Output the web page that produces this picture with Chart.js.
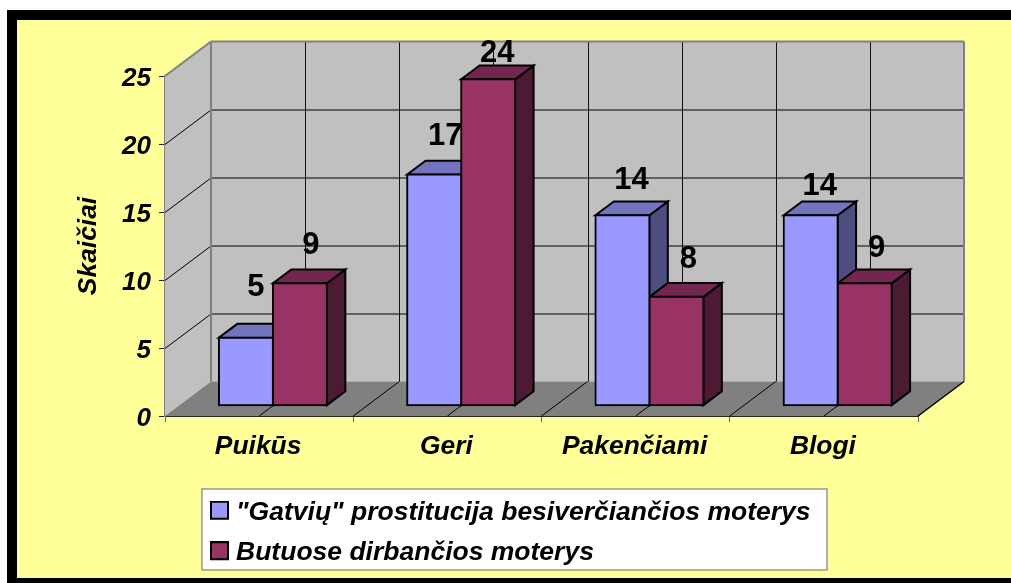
<!DOCTYPE html>
<html>
<head>
<meta charset="utf-8">
<style>html,body{margin:0;padding:0;background:#fff}canvas{display:block}</style>
<script src="https://cdn.jsdelivr.net/npm/chart.js@4"></script>
</head>
<body>
<canvas id="c" width="1011" height="583"></canvas>
<script>
const categories = ['Puikūs', 'Geri', 'Pakenčiami', 'Blogi'];
const streetValues = [5, 17, 14, 14];
const indoorValues = [9, 24, 8, 9];
const streetLabel = '"Gatvių" prostitucija besiverčiančios moterys';
const indoorLabel = 'Butuose dirbančios moterys';
const axisTitle = 'Skaičiai';

const FONT = '"Liberation Sans", Arial, sans-serif';
const YELLOW = '#FFFF99', WALL = '#C0C0C0', FLOOR = '#808080', EDGE = '#808080';
const WALL_DX = 46, WALL_DY = 34.5;     // depth of the 3D box
const BAR_FRONT = 0.3, BAR_BACK = 0.7;  // depth slice occupied by the bars
const faces = [
  {top: '#7373BF', side: '#4D4D80'},
  {top: '#732650', side: '#4D1A33'}
];
const labelShift = [
  [[10, -50], [11, -38], [9, -35], [9, -29]],
  [[11, -38], [9, -26], [12, -37], [12, -35]]
];
const frontDX = WALL_DX * BAR_FRONT, frontDY = WALL_DY * BAR_FRONT;
const barDX = WALL_DX * (BAR_BACK - BAR_FRONT), barDY = WALL_DY * (BAR_BACK - BAR_FRONT);

function poly(ctx, pts, fill, stroke, lw) {
  ctx.beginPath();
  pts.forEach((p, i) => i ? ctx.lineTo(p[0], p[1]) : ctx.moveTo(p[0], p[1]));
  ctx.closePath();
  if (fill) { ctx.fillStyle = fill; ctx.fill(); }
  if (stroke) { ctx.strokeStyle = stroke; ctx.lineWidth = lw; ctx.lineJoin = 'miter'; ctx.stroke(); }
}
function line(ctx, x1, y1, x2, y2, color, lw) {
  ctx.beginPath(); ctx.moveTo(x1, y1); ctx.lineTo(x2, y2);
  ctx.strokeStyle = color; ctx.lineWidth = lw; ctx.stroke();
}

const scene = {
  id: 'scene',
  beforeDraw(chart) {
    const c = chart.ctx, W = chart.width, H = chart.height;
    c.save();
    c.fillStyle = '#fff'; c.fillRect(0, 0, W, H);
    c.fillStyle = '#000'; c.fillRect(7, 10, W - 7, H - 10);
    c.fillStyle = YELLOW; c.fillRect(17, 20, W - 17, 558);
    // legend panel
    c.fillStyle = '#fff'; c.fillRect(202, 489, 625, 81);
    c.strokeStyle = '#666'; c.lineWidth = 1; c.strokeRect(202, 489, 625, 81);
    c.restore();
  },
  afterLayout(chart) {
    const l = chart.legend;
    l.left = 202.2; l.top = 485; l.right = 830; l.bottom = 640;
  },
  beforeDatasetsDraw(chart) {
    const c = chart.ctx, a = chart.chartArea, ys = chart.scales.y;
    const L = a.left, R = a.right, T = a.top, B = a.bottom, dx = WALL_DX, dy = WALL_DY;
    c.save();
    // walls and floor
    poly(c, [[L, T], [L + dx, T - dy], [L + dx, B - dy], [L, B]], WALL);
    poly(c, [[L + dx, T - dy], [R + dx, T - dy], [R + dx, B - dy], [L + dx, B - dy]], WALL);
    poly(c, [[L, B], [L + dx, B - dy], [R + dx, B - dy], [R, B]], FLOOR);
    // value gridlines
    ys.ticks.forEach((t, i) => {
      const y = Math.round(ys.getPixelForValue(t.value)) + 0.5;
      if (i === ys.ticks.length - 1 || t.value === 0) return;
      line(c, L + dx, y - dy, R + dx, y - dy, '#000', 1);
      line(c, L, y, L + dx, y - dy, '#000', 1);
    });
    // category gridlines: at each boundary and each midpoint
    const n = categories.length, step = (R - L) / (2 * n);
    for (let i = 1; i < 2 * n; i++) {
      const x = L + i * step;
      line(c, Math.round(x + dx) + 0.5, T - dy, Math.round(x + dx) + 0.5, B - dy, '#111', 1);
      line(c, x, B, x + dx, B - dy, '#000', 1);
    }
    // wall edges
    c.lineCap = 'butt';
    line(c, L, T, L + dx, T - dy, EDGE, 2);
    line(c, L + dx, T - dy, R + dx, T - dy, EDGE, 2);
    line(c, L + dx, T - dy, L + dx, B - dy, EDGE, 2);
    line(c, R + dx, T - dy, R + dx, B - dy, EDGE, 2);
    line(c, R, B, R + dx, B - dy, '#000', 1.5);
    c.translate(frontDX, -frontDY);
    chart.data.datasets.forEach((ds, d) => {
      chart.getDatasetMeta(d).data.forEach(el => {
        const p = el.getProps(['x', 'y', 'base', 'width'], true);
        const x2 = p.x + p.width / 2, x1 = p.x - p.width / 2;
        poly(c, [[x2, p.y], [x2 + barDX, p.y - barDY], [x2 + barDX, p.base - barDY], [x2, p.base]], faces[d].side, '#000', 2);
        poly(c, [[x1, p.y], [x1 + barDX, p.y - barDY], [x2 + barDX, p.y - barDY], [x2, p.y]], faces[d].top, '#000', 2);
      });
    });
    c.restore();
    // the library draws the front faces in the same shifted plane
    c.save();
    c.translate(frontDX, -frontDY);
  },
  afterDatasetsDraw(chart) {
    const c = chart.ctx;
    c.restore();
    c.save();
    c.font = 'bold 31px ' + FONT;
    c.fillStyle = '#000';
    c.textAlign = 'center';
    c.textBaseline = 'middle';
    chart.data.datasets.forEach((ds, d) => {
      chart.getDatasetMeta(d).data.forEach((el, i) => {
        const s = labelShift[d][i];
        c.fillText(String(ds.data[i]), el.x + frontDX + s[0], el.y - frontDY + s[1]);
      });
    });
    c.restore();
  }
};

function swatch(color) {
  const s = document.createElement('canvas');
  s.width = 19; s.height = 23;
  const g = s.getContext('2d');
  g.fillStyle = color; g.fillRect(1, 1, 17, 17);
  g.strokeStyle = '#000'; g.lineWidth = 2; g.strokeRect(1, 1, 17, 17);
  return s;
}

new Chart(document.getElementById('c'), {
  type: 'bar',
  data: {
    labels: categories,
    datasets: [
      {label: streetLabel, data: streetValues, backgroundColor: '#9999FF', borderColor: '#000', borderWidth: 2, borderSkipped: false, inflateAmount: 1, clip: false},
      {label: indoorLabel, data: indoorValues, backgroundColor: '#993366', borderColor: '#000', borderWidth: 2, borderSkipped: false, inflateAmount: 1, clip: false}
    ]
  },
  options: {
    responsive: false,
    animation: false,
    events: [],
    layout: {padding: {left: 0, right: 93, top: 76, bottom: 0}},
    datasets: {bar: {barPercentage: 1, categoryPercentage: 108 / 188.25}},
    scales: {
      x: {
        afterFit(s) { s.height = 167; },
        grid: {drawOnChartArea: false, drawTicks: true, tickLength: 6, tickColor: '#666', offset: true},
        border: {color: '#222', width: 2},
        ticks: {color: '#000', padding: 9, labelOffset: -1, maxRotation: 0, font: {family: FONT, size: 26.4, weight: 'bold', style: 'italic'}}
      },
      y: {
        min: 0, max: 25,
        afterFit(s) { s.width = 165; },
        grid: {drawOnChartArea: false, drawTicks: true, tickLength: 6, tickColor: '#222'},
        border: {color: EDGE, width: 2},
        ticks: {stepSize: 5, color: '#000', padding: 8, labelOffset: 2.5, font: {family: FONT, size: 26, weight: 'bold', style: 'italic'}},
        title: {display: true, text: axisTitle, color: '#000', padding: {top: 73, bottom: 0}, font: {family: FONT, size: 26.4, weight: 'bold', style: 'italic'}}
      }
    },
    plugins: {
      tooltip: {enabled: false},
      legend: {
        position: 'chartArea',
        align: 'start',
        labels: {
          color: '#000',
          usePointStyle: true,
          pointStyleWidth: 6.6,
          boxHeight: 19,
          padding: 14,
          font: {family: FONT, size: 26.5, weight: 'bold', style: 'italic'},
          generateLabels(chart) {
            return Chart.defaults.plugins.legend.labels.generateLabels(chart).map((it, i) => {
              it.pointStyle = swatch(chart.data.datasets[i].backgroundColor);
              return it;
            });
          }
        }
      }
    }
  },
  plugins: [scene]
});
</script>
</body>
</html>
